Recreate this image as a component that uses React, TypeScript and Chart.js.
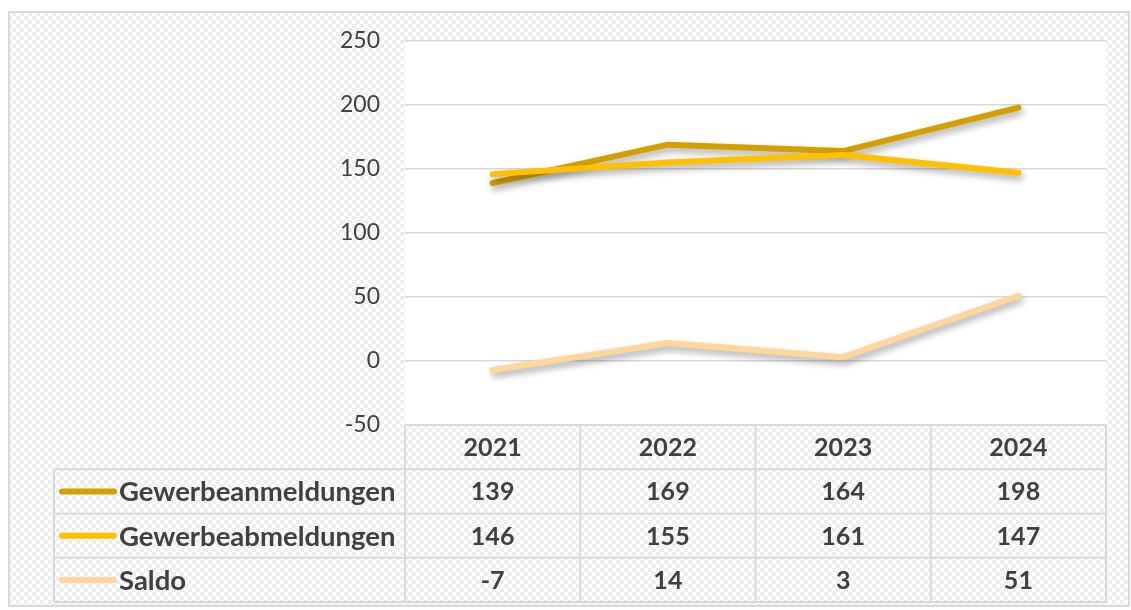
import React, { useEffect, useRef } from "react";
import { Chart, registerables } from "chart.js";

Chart.register(...registerables);

const years = ["2021", "2022", "2023", "2024"];
const anmeldungen = [139, 169, 164, 198];
const abmeldungen = [146, 155, 161, 147];
const saldo = [-7, 14, 3, 51];
const seriesNames = ["Gewerbeanmeldungen", "Gewerbeabmeldungen", "Saldo"];
const seriesValues = [anmeldungen, abmeldungen, saldo];
const seriesColors = ["#D4A000", "#FFC000", "#FFD69C"];
const yMin = -50;
const yMax = 250;
const yStep = 50;

const TEXT = "#404040";
const LINE = "#d9d9d9";
const FONT = "Lato";

function makePattern(ctx: CanvasRenderingContext2D) {
  const c = document.createElement("canvas");
  c.width = 8;
  c.height = 8;
  const p = c.getContext("2d")!;
  p.fillStyle = "#ffffff";
  p.fillRect(0, 0, 8, 8);
  p.fillStyle = "#ededed";
  p.fillRect(0, 0, 4, 4);
  p.fillRect(4, 4, 4, 4);
  return ctx.createPattern(c, "repeat")!;
}

const backgroundPlugin = {
  id: "bgPlugin",
  beforeDraw(chart: any) {
    const ctx: CanvasRenderingContext2D = chart.ctx;
    const { width, height, chartArea } = chart;
    ctx.save();
    ctx.fillStyle = "#ffffff";
    ctx.fillRect(0, 0, width, height);
    ctx.fillStyle = makePattern(ctx);
    ctx.fillRect(9, 12, width - 11, height - 16);
    ctx.strokeStyle = LINE;
    ctx.lineWidth = 2;
    ctx.strokeRect(9, 12, width - 11, height - 16);
    ctx.fillStyle = "#ffffff";
    ctx.fillRect(chartArea.left, chartArea.top - 1, chartArea.right - chartArea.left, chartArea.bottom - chartArea.top + 1);
    ctx.restore();
  },
};

const shadowPlugin = {
  id: "shadowPlugin",
  beforeDatasetDraw(chart: any) {
    const ctx = chart.ctx;
    ctx.save();
    ctx.shadowColor = "rgba(0,0,0,0.35)";
    ctx.shadowBlur = 7;
    ctx.shadowOffsetX = 2;
    ctx.shadowOffsetY = 4;
  },
  afterDatasetDraw(chart: any) {
    chart.ctx.restore();
  },
};

const tablePlugin = {
  id: "tablePlugin",
  afterDraw(chart: any) {
    const ctx: CanvasRenderingContext2D = chart.ctx;
    const xs = chart.scales.x;
    const area = chart.chartArea;
    const centers = years.map((_, i) => xs.getPixelForValue(i));
    const half = (centers[1] - centers[0]) / 2;
    const left = area.left;
    const right = area.right;
    const top = area.bottom;
    const rowH = 44.25;
    const legendLeft = 54;
    const bottom = top + rowH * 4;

    ctx.save();
    ctx.strokeStyle = LINE;
    ctx.lineWidth = 2;
    ctx.beginPath();
    ctx.moveTo(left, top);
    ctx.lineTo(right, top);
    for (let r = 1; r <= 4; r++) {
      const y = top + rowH * r;
      ctx.moveTo(legendLeft, y);
      ctx.lineTo(right, y);
    }
    ctx.moveTo(legendLeft, top + rowH);
    ctx.lineTo(legendLeft, bottom);
    ctx.moveTo(left, top);
    ctx.lineTo(left, bottom);
    centers.forEach((c) => {
      ctx.moveTo(c + half, top);
      ctx.lineTo(c + half, bottom);
    });
    ctx.stroke();

    ctx.fillStyle = TEXT;
    ctx.font = `bold 25px ${FONT}`;
    ctx.textAlign = "center";
    ctx.textBaseline = "middle";
    years.forEach((yr, i) => {
      ctx.fillText(yr, centers[i], top + rowH / 2 + 1);
    });
    seriesValues.forEach((vals, r) => {
      const cy = top + rowH * (r + 1) + rowH / 2 + 1;
      vals.forEach((v, i) => {
        ctx.fillText(String(v), centers[i], cy);
      });
    });

    ctx.font = `bold 27.5px ${FONT}`;
    seriesNames.forEach((name, r) => {
      const cy = top + rowH * (r + 1) + rowH / 2;
      ctx.strokeStyle = seriesColors[r];
      ctx.lineWidth = 6;
      ctx.lineCap = "round";
      ctx.beginPath();
      ctx.moveTo(62, cy);
      ctx.lineTo(114, cy);
      ctx.stroke();
      ctx.fillStyle = TEXT;
      ctx.textAlign = "left";
      ctx.fillText(name, 119, cy + 1);
    });
    ctx.restore();
  },
};

export default function App() {
  const ref = useRef<HTMLCanvasElement | null>(null);

  useEffect(() => {
    if (!ref.current) return;
    const order = [3, 2, 1];
    const chart = new Chart(ref.current, {
      type: "line",
      data: {
        labels: years,
        datasets: seriesNames.map((name, i) => ({
          label: name,
          data: seriesValues[i],
          borderColor: seriesColors[i],
          backgroundColor: seriesColors[i],
          borderWidth: 6,
          borderCapStyle: "round",
          borderJoinStyle: "round",
          pointRadius: 0,
          tension: 0,
          fill: false,
          order: order[i],
        })),
      } as any,
      options: {
        responsive: false,
        animation: false,
        layout: { padding: { top: 41, bottom: 185, left: 0, right: 25 } },
        plugins: {
          legend: { display: false },
          tooltip: { enabled: false },
        },
        scales: {
          x: {
            display: false,
            offset: true,
          },
          y: {
            min: yMin,
            max: yMax,
            ticks: {
              stepSize: yStep,
              color: TEXT,
              font: { family: FONT, size: 23 },
              padding: 25,
            },
            grid: { color: LINE, lineWidth: 1.5, drawTicks: false },
            border: { display: false },
            afterFit: (scale: any) => {
              scale.width = 405;
            },
          },
        },
      } as any,
      plugins: [backgroundPlugin, shadowPlugin, tablePlugin],
    });
    return () => chart.destroy();
  }, []);

  return (
    <div style={{ position: "absolute", left: 0, top: 0, width: 1131, height: 610 }}>
      <canvas ref={ref} width={1131} height={610} style={{ display: "block" }} />
    </div>
  );
}
